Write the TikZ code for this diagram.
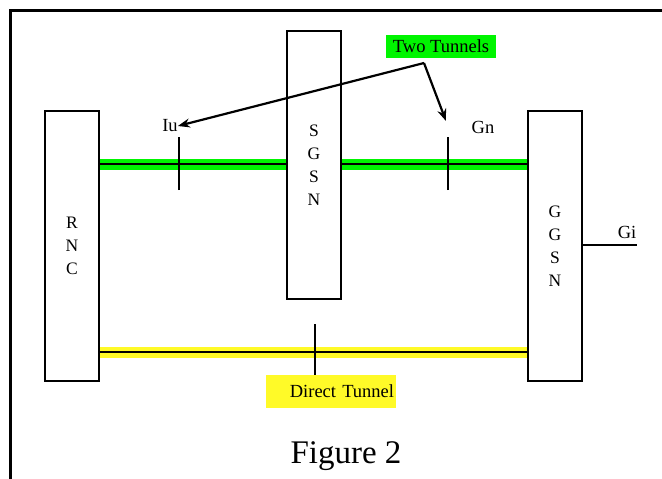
\documentclass[tikz,border=0pt]{standalone}
\usepackage{fontspec}
\setmainfont{Liberation Serif}
\usetikzlibrary{arrows.meta}

\definecolor{tunnelgreen}{RGB}{0,245,0}
\definecolor{tunnelyellow}{RGB}{255,250,40}

\tikzset{
  netbox/.style={draw=black, line width=2.2pt, fill=white, minimum width=54pt,
    inner sep=0pt, align=center, font=\fontsize{17.5}{23}\selectfont},
  lbl/.style={font=\fontsize{18.5}{20}\selectfont, inner sep=0pt},
  greenband/.style={tunnelgreen, line width=11pt},
  yellowband/.style={tunnelyellow, line width=11pt},
  wire/.style={black, line width=2.2pt},
  tick/.style={black, line width=2.2pt},
  pointer/.style={black, line width=2.2pt, -{Stealth[length=12pt,width=9pt]}},
}

\begin{document}
\begin{tikzpicture}[x=1pt, y=-1pt]
\useasboundingbox (0,0) rectangle (662,479);
\fill[white] (0,0) rectangle (662,479);

% outer frame (top and left edges)
\draw[black, line width=3pt] (10,479) -- (10,10) -- (662,10);

% network elements
\node[netbox, minimum height=270pt] (rnc)  at (72,246)  {R\\N\\C};
\node[netbox, minimum height=268pt] (sgsn) at (314,165) {S\\G\\S\\N};
\node[netbox, minimum height=270pt] (ggsn) at (555,246) {G\\G\\S\\N};

% anchor points on the tunnels
\coordinate (iu) at (179,164);
\coordinate (gn) at (448,164);
\coordinate (dt) at (315,352);
\coordinate (giend) at (637,245);

% two tunnels: RNC - SGSN - GGSN
\draw[greenband] (rnc.east |- iu) -- (sgsn.west |- iu);
\draw[greenband] (sgsn.east |- gn) -- (ggsn.west |- gn);
\draw[wire] (rnc.east |- iu) -- (sgsn.west |- iu);
\draw[wire] (sgsn.east |- gn) -- (ggsn.west |- gn);

% direct tunnel: RNC - GGSN
\draw[yellowband] (rnc.east |- dt) -- (ggsn.west |- dt);
\draw[wire] (rnc.east |- dt) -- (ggsn.west |- dt);

% interface ticks
\draw[tick] ([yshift=-26pt]iu) -- ([yshift=27pt]iu);
\draw[tick] ([yshift=-26pt]gn) -- ([yshift=27pt]gn);
\draw[tick] ([yshift=-27pt]dt) -- ([yshift=28pt]dt);

% Gi interface
\draw[wire] (ggsn.east |- giend) -- (giend);

% interface labels
\node[lbl] (iulbl) at (170,126) {Iu};
\node[lbl] (gnlbl) at (483,127) {Gn};
\node[lbl] (gilbl) at (627,232) {Gi};

% callouts
\node[fill=tunnelgreen, minimum width=110pt, minimum height=23pt, inner sep=0pt,
      font=\fontsize{18.5}{20}\selectfont] (two) at (441,46) {Two Tunnels};
\node[fill=tunnelyellow, text width=126pt, align=right, inner xsep=2pt,
      minimum height=33pt, font=\fontsize{18.5}{20}\selectfont] (direct) at (331,391) {Direct Tunnel};

\coordinate (fork) at (424,63);
\draw[pointer] (fork) -- (iulbl.east);
\draw[pointer] (fork) -- (446,121);

% caption
\node[font=\fontsize{33}{38}\selectfont, inner sep=0pt] (cap) at (346,456) {Figure 2};
\end{tikzpicture}
\end{document}
